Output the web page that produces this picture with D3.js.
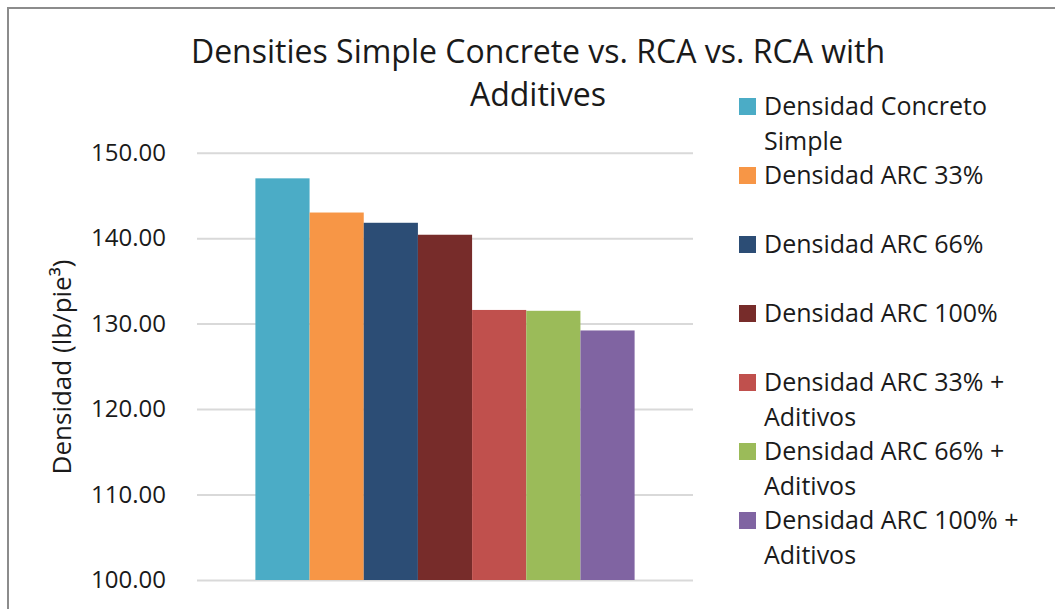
<!DOCTYPE html>
<html>
<head>
<meta charset="utf-8">
<script src="https://cdn.jsdelivr.net/npm/d3@7"></script>
<style>
  html, body { margin: 0; padding: 0; background: #ffffff; }
  svg { display: block; font-family: "Open Sans", "Noto Sans", sans-serif; }
</style>
</head>
<body>
<svg id="chart" width="1055" height="609"></svg>
<script>
// Series shown as side-by-side bars in a single group
const seriesNames = [
  "Densidad Concreto Simple",
  "Densidad ARC 33%",
  "Densidad ARC 66%",
  "Densidad ARC 100%",
  "Densidad ARC 33% + Aditivos",
  "Densidad ARC 66% + Aditivos",
  "Densidad ARC 100% + Aditivos"
];
// Legend text, wrapped as in the legend box
const legendLines = [
  ["Densidad Concreto", "Simple"],
  ["Densidad ARC 33%"],
  ["Densidad ARC 66%"],
  ["Densidad ARC 100%"],
  ["Densidad ARC 33% +", "Aditivos"],
  ["Densidad ARC 66% +", "Aditivos"],
  ["Densidad ARC 100% +", "Aditivos"]
];
const densities = [147.0, 143.0, 141.8, 140.4, 131.6, 131.5, 129.2];
const seriesColors = ["#4BACC6", "#F79646", "#2C4D75", "#772C2A", "#C0504D", "#9BBB59", "#8064A2"];
const yTicks = [100, 110, 120, 130, 140, 150];
const titleLines = ["Densities Simple Concrete vs. RCA vs. RCA with", "Additives"];
const yAxisLabel = "Densidad (lb/pie³)";

const svg = d3.select("#chart");
const textColor = "#1a1a1a";

// Outer frame of the chart area
svg.append("rect")
  .attr("x", 8).attr("y", 8)
  .attr("width", 1100).attr("height", 700)
  .attr("fill", "#ffffff")
  .attr("stroke", "#8c8c8c")
  .attr("stroke-width", 2);

const plot = { left: 197, right: 693, top: 152.7, bottom: 580 };

const y = d3.scaleLinear().domain([100, 150]).range([plot.bottom, plot.top]);

const xGroup = d3.scaleBand()
  .domain(["grupo"])
  .range([plot.left, plot.right])
  .paddingOuter(0.154);

const xSeries = d3.scaleBand()
  .domain(seriesNames)
  .range([0, xGroup.bandwidth()])
  .padding(0);

// Gridlines and tick labels
const yAxis = d3.axisLeft(y)
  .tickValues(yTicks)
  .tickSize(-(plot.right - plot.left))
  .tickPadding(31)
  .tickFormat(d3.format(".2f"));

const gAxis = svg.append("g")
  .attr("transform", `translate(${plot.left},0)`)
  .call(yAxis);
gAxis.select(".domain").remove();
gAxis.selectAll(".tick line")
  .attr("stroke", "#d9d9d9")
  .attr("stroke-width", 2);
gAxis.selectAll(".tick text")
  .attr("fill", textColor)
  .attr("font-size", 24)
  .attr("font-family", "'Open Sans', sans-serif");

// Bars
const gBars = svg.append("g")
  .attr("transform", `translate(${xGroup("grupo")},0)`);
gBars.selectAll("rect")
  .data(seriesNames.map((name, i) => ({ name, value: densities[i], color: seriesColors[i] })))
  .join("rect")
  .attr("x", d => xSeries(d.name))
  .attr("width", xSeries.bandwidth())
  .attr("y", d => y(d.value))
  .attr("height", d => y(100) - y(d.value))
  .attr("fill", d => d.color);

// Title
svg.append("text")
  .attr("x", 538)
  .attr("text-anchor", "middle")
  .attr("fill", textColor)
  .attr("font-size", 32)
  .selectAll("tspan")
  .data(titleLines)
  .join("tspan")
  .attr("x", 538)
  .attr("y", (d, i) => 63 + i * 43)
  .text(d => d);

// Y-axis title
svg.append("text")
  .attr("transform", "translate(71,367) rotate(-90)")
  .attr("text-anchor", "middle")
  .attr("fill", textColor)
  .attr("font-size", 26)
  .text(yAxisLabel);

// Legend
const legend = svg.append("g");
const entries = legend.selectAll("g")
  .data(legendLines.map((lines, i) => ({ lines, color: seriesColors[i] })))
  .join("g")
  .attr("transform", (d, i) => `translate(739,${115 + i * 69})`);
entries.append("rect")
  .attr("x", 0).attr("y", -17)
  .attr("width", 17).attr("height", 17)
  .attr("fill", d => d.color);
entries.append("text")
  .attr("fill", textColor)
  .attr("font-size", 25)
  .selectAll("tspan")
  .data(d => d.lines)
  .join("tspan")
  .attr("x", 25)
  .attr("y", (d, i) => i * 35)
  .text(d => d);
</script>
</body>
</html>
